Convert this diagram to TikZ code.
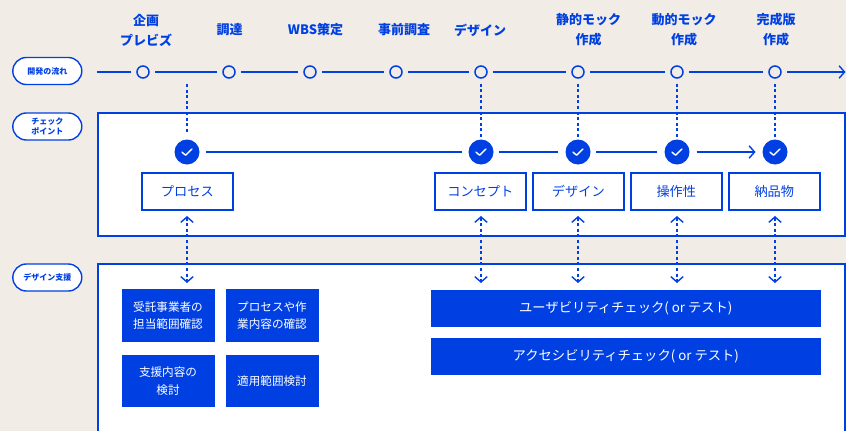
\documentclass[tikz,border=0pt]{standalone}
\usepackage{fontspec}
\setmainfont{Noto Sans CJK JP}
\usetikzlibrary{arrows.meta}
\definecolor{bg}{HTML}{F1EDE6}
\definecolor{bl}{HTML}{0040E3}
\tikzset{
 x=1pt,y=-1pt,
 every node/.style={inner sep=0pt,outer sep=0pt,align=center,font=\fontsize{13.2}{19}\selectfont},
 flowline/.style={draw=bl,line width=1.4pt},
 dashline/.style={draw=bl,line width=1.4pt,dash pattern=on 3pt off 2.6pt},
 chevtip/.style={Straight Barb[length=5.5pt,width=12.5pt,line width=1.4pt]},
 ring/.style={circle,draw=bl,line width=1.5pt,fill=none,minimum size=12pt},
 tick/.style={circle,fill=bl,minimum size=25pt,path picture={
   \draw[white,line width=1.4pt,line cap=round,line join=round]
   ([shift={(-5pt,-0.2pt)}]path picture bounding box.center)--([shift={(-1.4pt,-3.2pt)}]path picture bounding box.center)--([shift={(5pt,3pt)}]path picture bounding box.center);}},
 steplabel/.style={text=bl,font=\fontsize{13}{20}\selectfont\bfseries},
 pill/.style={draw=bl,line width=1.4pt,fill=white,rounded corners=13.5pt,minimum width=69pt,minimum height=27pt,text=bl,font=\fontsize{8}{11}\selectfont\bfseries},
 panel/.style={draw=bl,line width=1.4pt,fill=white},
 check/.style={draw=bl,line width=1.4pt,fill=white,minimum width=91pt,minimum height=37pt,text=bl},
 solid box/.style={fill=bl,text=white,minimum width=93pt,minimum height=52.5pt,font=\fontsize{11.6}{17.5}\selectfont},
 wide box/.style={fill=bl,text=white,minimum width=390.5pt,minimum height=37pt,font=\fontsize{13.3}{18}\selectfont},
}
\begin{document}
\begin{tikzpicture}[>={Straight Barb[length=5.5pt,width=12.5pt,line width=1.4pt]}]
\useasboundingbox (0,0) rectangle (846,431);
\fill[bg] (0,0) rectangle (846,431);
% panels
\draw[panel] (98,113) rectangle (845,236);
\draw[panel] (98,433) -- (98,264) -- (845,264) -- (845,433);
% pills
\node[pill] (p1) at (47.3,71) {開発の流れ};
\node[pill] (p2) at (47.3,126.5) {チェック\\[-1pt]ポイント};
\node[pill] (p3) at (47.3,277.5) {デザイン支援};
% flow rings
\foreach \n/\x in {1/143,2/229,3/310,4/396,5/481,6/578,7/677,8/775}
  \node[ring] (c\n) at (\x,72) {};
\coordinate (fs) at (97,72);
\coordinate (fe) at (845.5,72);
\draw[flowline,shorten >=6.5pt] (fs) -- (c1);
\foreach \a/\b in {1/2,2/3,3/4,4/5,5/6,6/7,7/8}
  \draw[flowline,shorten <=6pt,shorten >=6pt] (c\a) -- (c\b);
\draw[flowline,->,shorten <=6pt] (c8) -- (fe);
% step labels
\node[steplabel] (l1) at (146,30) {企画\\プレビズ};
\node[steplabel] (l2) at (229.5,30) {調達};
\node[steplabel] (l3) at (315.5,30) {WBS策定};
\node[steplabel] (l4) at (404,30) {事前調査};
\node[steplabel] (l5) at (480,30) {デザイン};
\node[steplabel] (l6) at (588.5,30) {静的モック\\作成};
\node[steplabel] (l7) at (684,30) {動的モック\\作成};
\node[steplabel] (l8) at (776,30) {完成版\\作成};
% check circles
\node[tick] (k1) at (187,152) {};
\node[tick] (k2) at (481,152) {};
\node[tick] (k3) at (578,152) {};
\node[tick] (k4) at (677,152) {};
\node[tick] (k5) at (775,152) {};
\draw[flowline,shorten <=6pt,shorten >=6.5pt] (k1) -- (k2);
\draw[flowline,shorten <=5pt,shorten >=8pt] (k2) -- (k3);
\draw[flowline,shorten <=5.5pt,shorten >=8pt] (k3) -- (k4);
\draw[flowline,->,shorten <=7pt,shorten >=7pt] (k4) -- (k5);
% vertical dashed
\coordinate (d1) at (187,84);
\draw[dashline,shorten >=7pt] (d1) -- (k1);
\foreach \a/\b in {5/2,6/3,7/4,8/5}
  \draw[dashline,shorten <=5.5pt,shorten >=7pt] (c\a) -- (c\a |- k\b);
% check boxes
\node[check] (b1) at (187.3,191.5) {\raisebox{-0.6pt}{プロセス}};
\node[check] (b2) at (480.3,191.5) {\raisebox{-0.6pt}{コンセプト}};
\node[check] (b3) at (578.3,191.5) {\raisebox{-0.6pt}{デザイン}};
\node[check] (b4) at (676.3,191.5) {\raisebox{-0.6pt}{操作性}};
\node[check] (b5) at (774.3,191.5) {\raisebox{-0.6pt}{納品物}};
% support boxes
\node[solid box] (s1) at (168,315.5) {受託事業者の\\担当範囲確認};
\node[solid box] (s2) at (272,315.5) {プロセスや作\\業内容の確認};
\node[solid box] (s3) at (168,381) {支援内容の\\検討};
\node[solid box] (s4) at (272,381) {適用範囲検討};
\node[wide box] (w1) at (625.8,308) {ユーザビリティチェック( or テスト)};
\node[wide box] (w2) at (625.8,356.5) {アクセシビリティチェック( or テスト)};
% double arrows
\foreach \i/\x in {1/187,2/481,3/578,4/677,5/775}{
  \coordinate (f\i) at (\x,216);
  \coordinate (t\i) at (\x,283);
  \draw[dashline,<->] (f\i) -- (t\i);
}
\end{tikzpicture}
\end{document}
